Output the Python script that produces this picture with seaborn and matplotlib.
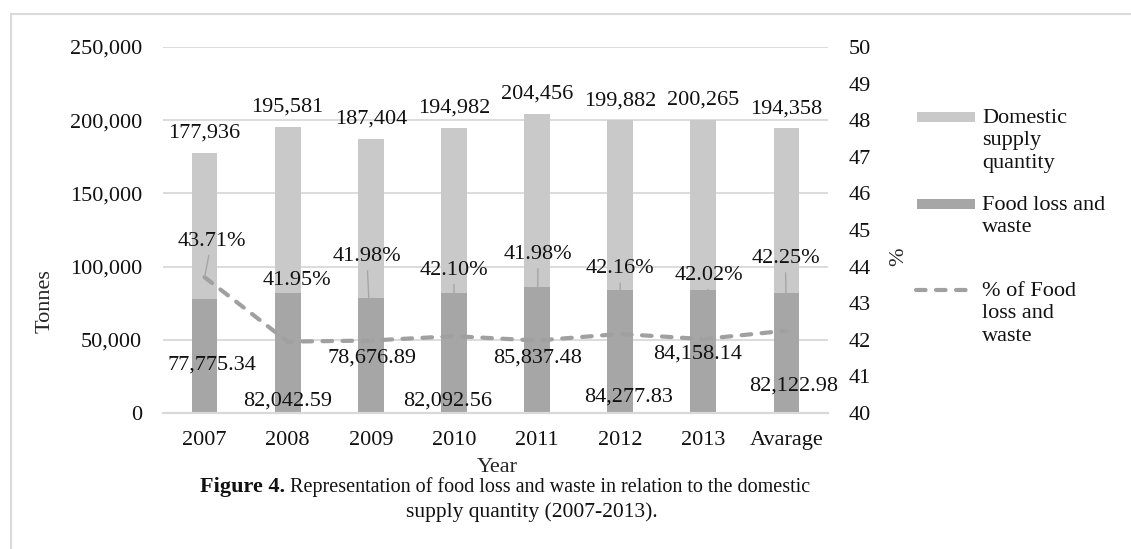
import numpy as np
import pandas as pd
import matplotlib
matplotlib.use("Agg")
import matplotlib.pyplot as plt
import seaborn as sns
from matplotlib.patches import Rectangle
from matplotlib.lines import Line2D

# ---- data -------------------------------------------------------------
years = ["2007", "2008", "2009", "2010", "2011", "2012", "2013", "Avarage"]
domestic_supply = [177936, 195581, 187404, 194982, 204456, 199882, 200265, 194358]
food_loss = [77775.34, 82042.59, 78676.89, 82092.56, 85837.48, 84277.83, 84158.14, 82122.98]
loss_pct = [43.71, 41.95, 41.98, 42.10, 41.98, 42.16, 42.02, 42.25]

# ---- style ------------------------------------------------------------
LIGHT = "#C9C9C9"
DARK = "#A6A6A6"
LINE = "#A0A0A0"
LEADER = "#A6A6A6"
GRID = "#D9D9D9"
FS = 16

sns.set_theme(style="white")
plt.rcParams["font.family"] = ["Liberation Serif", "DejaVu Serif"]
plt.rcParams["text.color"] = "#111111"

W, H = 1131, 549
fig = plt.figure(figsize=(W / 100, H / 100), dpi=100)


def fx(px):
    return px / W


def fy(py):
    return 1 - py / H


ax = fig.add_axes([fx(163), fy(413), fx(828) - fx(163), fy(47) - fy(413)])

df = pd.DataFrame({"year": years, "supply": domestic_supply,
                   "loss": food_loss, "pct": loss_pct})

sns.barplot(data=df, x="year", y="supply", order=years, color=LIGHT,
            saturation=1, width=0.31, errorbar=None, linewidth=0, ax=ax)
sns.barplot(data=df, x="year", y="loss", order=years, color=DARK,
            saturation=1, width=0.31, errorbar=None, linewidth=0, ax=ax)

ax.set_xlim(-0.5, len(years) - 0.5)
ax.set_ylim(0, 250000)
ax.set_yticks(np.arange(0, 250001, 50000))
ax.yaxis.set_major_formatter(matplotlib.ticker.FuncFormatter(lambda v, _: f"{v:,.0f}"))
ax.set_axisbelow(True)
ax.yaxis.grid(True, color=GRID, linewidth=1.3)
for side in ["top", "left", "right"]:
    ax.spines[side].set_visible(False)
ax.spines["bottom"].set_color(GRID)
ax.spines["bottom"].set_linewidth(1.6)
ax.tick_params(axis="both", length=0, labelsize=FS, colors="#111111")
ax.tick_params(axis="y", pad=15)
ax.tick_params(axis="x", pad=13)

ax.set_xlabel("Year", fontsize=FS)
ax.xaxis.set_label_coords(0.502, -0.122)
ax.set_ylabel("Tonnes", fontsize=FS)
ax.yaxis.set_label_coords(-0.163, 0.306)

# percentage line on the secondary axis
ax2 = ax.twinx()
sns.lineplot(x=np.arange(len(years)), y=loss_pct, ax=ax2, color=LINE,
             linewidth=3, linestyle=(0, (2.3, 2.5)), dash_capstyle="round",
             legend=False)
ax2.set_ylim(40, 50)
ax2.set_yticks(np.arange(40, 51, 1))
for side in ["top", "left", "right", "bottom"]:
    ax2.spines[side].set_visible(False)
ax2.tick_params(axis="y", length=0, labelsize=FS, pad=15, colors="#111111")
ax2.set_ylabel("%", fontsize=FS)
ax2.yaxis.set_label_coords(1.092, 0.426)

# value labels: total supply above each light bar
for i, v in enumerate(domestic_supply):
    ax.annotate(f"{v:,}", xy=(i, v), xytext=(0, 14), textcoords="offset points",
                ha="center", va="center", fontsize=FS)

# value labels for food loss (pixel offsets from each bar top)
loss_offsets = [(7, 66), (0, 108), (1, 60), (-6, 108), (0, 71), (8, 107), (-6, 64), (7, 93)]
for i, (v, (dx, dy)) in enumerate(zip(food_loss, loss_offsets)):
    ax.annotate(f"{v:,.2f}", xy=(i, v), xytext=(dx * 0.72, -dy * 0.72),
                textcoords="offset points", ha="center", va="center", fontsize=FS)

# percentage labels with leader lines (pixel offsets from each line point)
pct_offsets = [(7, -36), (9, -61), (-4, -84), (0, -66), (1, -86), (0, -65), (6, -64), (-1, -72)]
for i, (p, (dx, dy)) in enumerate(zip(loss_pct, pct_offsets)):
    arrow = None if i == 1 else dict(arrowstyle="-", color=LEADER, lw=1.0,
                                      shrinkA=1, shrinkB=0)
    ax2.annotate(f"{p:.2f}%", xy=(i, p), xytext=(dx * 0.72, -dy * 0.72),
                 textcoords="offset points", ha="center", va="center",
                 fontsize=FS, arrowprops=arrow)

# legend on the right
fig.patches.append(Rectangle((fx(917), fy(122)), fx(975) - fx(917), fy(112) - fy(122),
                             transform=fig.transFigure, color=LIGHT, lw=0))
fig.patches.append(Rectangle((fx(917), fy(209)), fx(975) - fx(917), fy(199) - fy(209),
                             transform=fig.transFigure, color=DARK, lw=0))
fig.lines.append(Line2D([fx(916), fx(973)], [fy(290), fy(290)], transform=fig.transFigure,
                        color=LINE, linewidth=3, linestyle=(0, (2.3, 2.5)),
                        dash_capstyle="round"))
legend_text = [("Domestic\nsupply\nquantity", 117),
               ("Food loss and\nwaste", 204),
               ("% of Food\nloss and\nwaste", 290)]
for label, y in legend_text:
    fig.text(fx(982), fy(y - 8), label, fontsize=FS, va="top", ha="left",
             linespacing=1.25)

# figure caption
cap1 = fig.text(fx(200), fy(492), "Figure 4.", fontsize=16, fontweight="bold",
                ha="left", va="baseline")
ax.annotate(" Representation of food loss and waste in relation to the domestic",
            xy=(1, 0), xycoords=cap1, xytext=(0, 0), textcoords="offset points",
            fontsize=14.5, ha="left", va="bottom", annotation_clip=False)
fig.text(fx(532), fy(517), "supply quantity (2007-2013).", fontsize=15.5,
         ha="center", va="baseline")

# outer frame
fig.patches.append(Rectangle((fx(11), -0.05), 1.2, fy(14) + 0.05,
                             transform=fig.transFigure, fill=False,
                             edgecolor=GRID, linewidth=1.5))

fig.savefig("out.png", dpi=100)
